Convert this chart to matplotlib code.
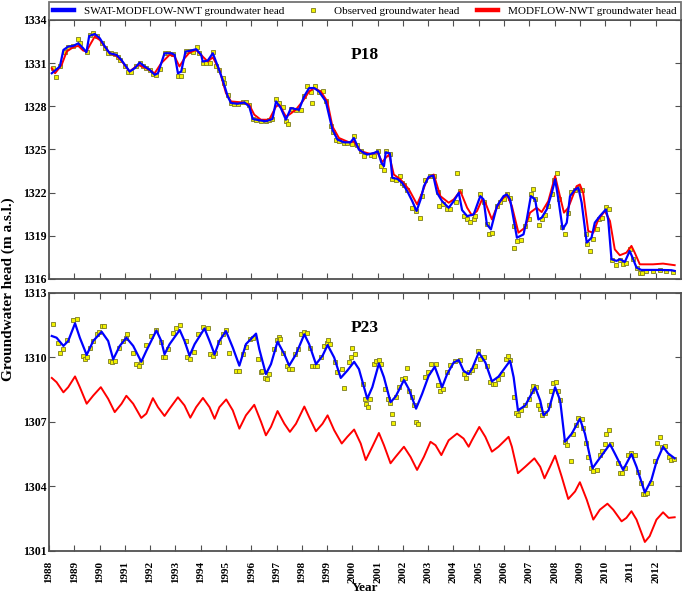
import numpy as np
import matplotlib
matplotlib.use("Agg")
import matplotlib.pyplot as plt

plt.rcParams['font.family'] = ['Liberation Serif', 'DejaVu Serif']

# (decimal year, head in m a.s.l.)
p18_swat = [
    (1988.11, 1330.30), (1988.43, 1330.77), (1988.57, 1331.92), (1988.76, 1332.15), (1988.96, 1332.20),
    (1989.16, 1332.38), (1989.35, 1332.04), (1989.48, 1331.76), (1989.59, 1332.89), (1989.81, 1333.03),
    (1990.01, 1332.73), (1990.21, 1332.15), (1990.40, 1331.69), (1990.67, 1331.58), (1990.86, 1331.23),
    (1991.19, 1330.42), (1991.39, 1330.65), (1991.59, 1331.04), (1991.78, 1330.77), (1991.98, 1330.54),
    (1992.18, 1330.19), (1992.31, 1330.30), (1992.57, 1331.69), (1992.84, 1331.69), (1992.97, 1331.58),
    (1993.10, 1330.30), (1993.23, 1330.42), (1993.40, 1331.81), (1993.56, 1331.85), (1993.82, 1331.97),
    (1994.02, 1331.58), (1994.08, 1331.11), (1994.28, 1331.18), (1994.48, 1331.69), (1994.68, 1330.77),
    (1994.87, 1329.84), (1995.07, 1328.69), (1995.20, 1328.23), (1995.46, 1328.18), (1995.73, 1328.27),
    (1995.92, 1327.99), (1996.06, 1327.12), (1996.32, 1327.03), (1996.58, 1326.96), (1996.84, 1327.12),
    (1996.98, 1328.34), (1997.17, 1327.88), (1997.37, 1327.07), (1997.57, 1327.88), (1997.89, 1327.76),
    (1998.09, 1328.69), (1998.29, 1329.27), (1998.49, 1329.27), (1998.68, 1329.03), (1998.95, 1328.34),
    (1999.21, 1326.38), (1999.41, 1325.69), (1999.67, 1325.50), (1999.93, 1325.50), (2000.06, 1325.80),
    (2000.26, 1324.99), (2000.46, 1324.76), (2000.59, 1324.65), (2000.86, 1324.76), (2001.01, 1324.88),
    (2001.15, 1324.07), (2001.25, 1323.84), (2001.32, 1324.81), (2001.49, 1324.72), (2001.58, 1323.03),
    (2001.78, 1322.96), (2001.97, 1322.68), (2002.17, 1322.11), (2002.37, 1321.41), (2002.54, 1320.72),
    (2002.70, 1321.53), (2002.83, 1322.45), (2003.02, 1323.10), (2003.20, 1323.19), (2003.35, 1321.99),
    (2003.55, 1321.41), (2003.81, 1320.95), (2004.01, 1321.41), (2004.21, 1321.99), (2004.34, 1320.79),
    (2004.54, 1320.37), (2004.80, 1320.49), (2005.06, 1321.76), (2005.19, 1321.53), (2005.32, 1319.80),
    (2005.48, 1319.45), (2005.72, 1321.07), (2005.98, 1321.76), (2006.11, 1321.88), (2006.24, 1321.53),
    (2006.38, 1320.14), (2006.51, 1318.87), (2006.77, 1319.10), (2006.90, 1320.14), (2007.06, 1321.76),
    (2007.23, 1321.53), (2007.36, 1320.14), (2007.49, 1320.26), (2007.69, 1320.84), (2007.89, 1321.99),
    (2008.02, 1322.92), (2008.15, 1321.53), (2008.32, 1319.45), (2008.48, 1319.91), (2008.61, 1321.76),
    (2008.81, 1322.22), (2008.94, 1322.34), (2009.07, 1321.30), (2009.27, 1318.53), (2009.46, 1318.87),
    (2009.59, 1319.91), (2009.79, 1320.37), (2010.03, 1320.84), (2010.12, 1320.14), (2010.25, 1317.37),
    (2010.45, 1317.26), (2010.58, 1317.37), (2010.78, 1317.19), (2010.97, 1317.95), (2011.11, 1317.37),
    (2011.24, 1316.79), (2011.43, 1316.63), (2011.76, 1316.63), (2012.16, 1316.63), (2012.62, 1316.61),
    (2012.75, 1316.56),
]

p18_modflow = [
    (1988.11, 1330.65), (1988.24, 1330.30), (1988.50, 1330.88), (1988.70, 1331.81), (1988.96, 1332.11),
    (1989.16, 1332.20), (1989.35, 1331.88), (1989.48, 1331.81), (1989.62, 1332.27), (1989.81, 1332.85),
    (1990.01, 1332.61), (1990.21, 1332.15), (1990.40, 1331.69), (1990.67, 1331.51), (1990.86, 1331.18),
    (1991.19, 1330.42), (1991.52, 1330.88), (1991.85, 1330.65), (1992.18, 1330.30), (1992.44, 1331.00),
    (1992.77, 1331.58), (1992.97, 1331.46), (1993.16, 1330.77), (1993.36, 1331.34), (1993.56, 1331.74),
    (1993.82, 1331.92), (1994.08, 1331.46), (1994.28, 1331.11), (1994.48, 1331.41), (1994.74, 1330.54),
    (1995.00, 1328.92), (1995.20, 1328.34), (1995.66, 1328.27), (1995.92, 1328.11), (1996.12, 1327.42),
    (1996.38, 1327.07), (1996.71, 1327.07), (1996.98, 1327.99), (1997.11, 1328.11), (1997.37, 1327.30),
    (1997.50, 1327.42), (1997.76, 1327.76), (1998.03, 1328.34), (1998.29, 1329.03), (1998.49, 1329.27),
    (1998.75, 1329.03), (1999.01, 1328.34), (1999.21, 1326.61), (1999.47, 1325.80), (1999.87, 1325.50),
    (2000.06, 1325.57), (2000.33, 1324.88), (2000.72, 1324.69), (2000.99, 1324.81), (2001.18, 1324.12),
    (2001.32, 1324.42), (2001.45, 1324.65), (2001.64, 1323.26), (2001.91, 1322.91), (2002.24, 1322.22),
    (2002.56, 1321.18), (2002.76, 1321.99), (2002.96, 1322.96), (2003.22, 1323.26), (2003.48, 1321.76),
    (2003.81, 1321.30), (2004.01, 1321.53), (2004.27, 1322.11), (2004.54, 1320.95), (2004.73, 1320.42),
    (2004.93, 1320.72), (2005.13, 1321.53), (2005.26, 1321.30), (2005.52, 1320.14), (2005.65, 1320.72),
    (2005.85, 1321.41), (2006.11, 1321.88), (2006.31, 1321.07), (2006.57, 1319.22), (2006.83, 1319.57),
    (2007.03, 1320.61), (2007.29, 1320.95), (2007.49, 1320.65), (2007.75, 1321.41), (2008.02, 1323.15),
    (2008.21, 1321.76), (2008.37, 1320.61), (2008.54, 1320.95), (2008.87, 1322.45), (2009.00, 1322.57),
    (2009.13, 1321.99), (2009.33, 1319.33), (2009.53, 1319.22), (2009.73, 1320.14), (2009.99, 1320.72),
    (2010.19, 1320.03), (2010.38, 1318.06), (2010.58, 1317.65), (2010.84, 1317.83), (2011.04, 1318.30),
    (2011.17, 1317.83), (2011.37, 1317.02), (2011.89, 1317.02), (2012.29, 1317.07), (2012.75, 1316.96),
]

p18_observed = [
    (1988.15, 1330.65), (1988.26, 1330.03), (1988.43, 1330.77), (1988.63, 1331.81), (1988.76, 1332.15),
    (1988.96, 1332.20), (1989.16, 1332.68), (1989.22, 1332.38), (1989.49, 1331.76), (1989.62, 1332.96),
    (1989.75, 1333.08), (1989.88, 1332.89), (1990.08, 1332.38), (1990.21, 1332.04), (1990.34, 1331.69),
    (1990.47, 1331.69), (1990.60, 1331.62), (1990.73, 1331.46), (1990.80, 1331.23), (1991.00, 1330.77),
    (1991.13, 1330.42), (1991.26, 1330.37), (1991.46, 1330.81), (1991.59, 1331.04), (1991.72, 1330.77),
    (1991.85, 1330.65), (1991.98, 1330.54), (1992.11, 1330.26), (1992.24, 1330.19), (1992.38, 1330.58),
    (1992.57, 1331.69), (1992.70, 1331.69), (1992.90, 1331.62), (1993.10, 1330.12), (1993.23, 1330.12),
    (1993.30, 1330.54), (1993.43, 1331.85), (1993.56, 1331.85), (1993.69, 1331.81), (1993.85, 1332.11),
    (1993.95, 1331.69), (1994.08, 1331.00), (1994.22, 1331.00), (1994.35, 1331.04), (1994.48, 1331.76),
    (1994.61, 1330.77), (1994.72, 1330.54), (1994.87, 1329.96), (1994.94, 1329.61), (1995.07, 1328.80),
    (1995.20, 1328.23), (1995.33, 1328.18), (1995.46, 1328.18), (1995.66, 1328.27), (1995.79, 1328.27),
    (1995.92, 1328.11), (1996.06, 1327.12), (1996.19, 1327.07), (1996.38, 1326.96), (1996.58, 1326.96),
    (1996.71, 1327.07), (1996.84, 1327.12), (1996.98, 1328.53), (1997.11, 1328.23), (1997.24, 1327.95),
    (1997.37, 1326.96), (1997.44, 1326.79), (1997.57, 1327.81), (1997.76, 1327.72), (1997.96, 1327.76),
    (1998.09, 1328.73), (1998.22, 1329.38), (1998.36, 1329.03), (1998.39, 1328.23), (1998.53, 1329.38),
    (1998.68, 1329.03), (1998.85, 1329.08), (1998.95, 1328.34), (1999.14, 1326.66), (1999.24, 1326.19),
    (1999.37, 1325.69), (1999.47, 1325.57), (1999.67, 1325.45), (1999.80, 1325.45), (1999.97, 1325.41),
    (2000.06, 1325.96), (2000.19, 1325.34), (2000.33, 1324.88), (2000.46, 1324.58), (2000.72, 1324.65),
    (2000.86, 1324.53), (2001.01, 1324.88), (2001.15, 1323.84), (2001.25, 1323.61), (2001.33, 1324.88),
    (2001.49, 1324.72), (2001.58, 1322.96), (2001.71, 1322.91), (2001.88, 1323.15), (2001.97, 1322.68),
    (2002.04, 1322.50), (2002.17, 1322.22), (2002.37, 1320.95), (2002.50, 1320.72), (2002.67, 1320.26),
    (2002.76, 1321.76), (2002.89, 1322.87), (2003.09, 1323.15), (2003.22, 1323.19), (2003.38, 1322.04),
    (2003.42, 1321.07), (2003.59, 1321.18), (2003.75, 1320.88), (2003.88, 1320.88), (2004.08, 1321.34),
    (2004.14, 1323.38), (2004.25, 1322.11), (2004.40, 1320.37), (2004.54, 1320.14), (2004.67, 1319.96),
    (2004.80, 1320.14), (2004.86, 1320.37), (2005.06, 1321.88), (2005.19, 1321.34), (2005.32, 1319.80),
    (2005.39, 1319.10), (2005.52, 1319.22), (2005.72, 1321.07), (2005.85, 1321.34), (2005.98, 1321.53),
    (2006.11, 1321.88), (2006.22, 1321.64), (2006.38, 1319.68), (2006.40, 1318.18), (2006.51, 1318.64),
    (2006.68, 1318.71), (2006.83, 1319.68), (2006.97, 1320.14), (2007.06, 1321.88), (2007.16, 1322.27),
    (2007.23, 1321.53), (2007.40, 1319.73), (2007.49, 1320.14), (2007.62, 1320.42), (2007.75, 1321.07),
    (2007.89, 1321.88), (2007.98, 1322.91), (2008.08, 1323.38), (2008.19, 1321.53), (2008.28, 1319.64),
    (2008.41, 1319.10), (2008.54, 1320.61), (2008.63, 1322.04), (2008.81, 1322.22), (2008.94, 1322.34),
    (2009.07, 1322.18), (2009.24, 1319.10), (2009.29, 1318.41), (2009.40, 1317.95), (2009.50, 1318.80),
    (2009.66, 1319.45), (2009.77, 1320.14), (2009.86, 1320.26), (2010.05, 1321.02), (2010.16, 1320.88),
    (2010.29, 1317.33), (2010.41, 1316.96), (2010.58, 1317.33), (2010.71, 1317.07), (2010.84, 1317.14),
    (2011.00, 1318.11), (2011.11, 1317.37), (2011.24, 1316.79), (2011.37, 1316.45), (2011.47, 1316.40),
    (2011.63, 1316.56), (2011.89, 1316.56), (2012.16, 1316.63), (2012.42, 1316.56), (2012.68, 1316.51),
]

p23_swat = [
    (1988.11, 1311.00), (1988.30, 1310.92), (1988.57, 1310.54), (1988.76, 1310.77), (1989.03, 1311.59),
    (1989.22, 1310.92), (1989.49, 1310.12), (1989.75, 1310.77), (1990.08, 1311.20), (1990.34, 1310.77),
    (1990.54, 1309.92), (1990.80, 1310.54), (1991.06, 1310.92), (1991.33, 1310.54), (1991.65, 1309.80),
    (1991.85, 1310.31), (1992.25, 1311.26), (1992.44, 1310.77), (1992.57, 1310.15), (1992.77, 1310.62),
    (1993.17, 1311.28), (1993.36, 1310.77), (1993.56, 1310.08), (1993.76, 1310.62), (1994.15, 1311.35),
    (1994.35, 1310.77), (1994.55, 1310.15), (1994.74, 1310.77), (1995.00, 1311.23), (1995.27, 1310.46),
    (1995.53, 1309.62), (1995.79, 1310.62), (1996.19, 1311.11), (1996.32, 1310.38), (1996.58, 1309.23),
    (1996.78, 1309.69), (1997.04, 1310.74), (1997.31, 1310.15), (1997.50, 1309.62), (1997.77, 1310.15),
    (1998.10, 1311.08), (1998.29, 1310.62), (1998.56, 1309.69), (1998.82, 1310.08), (1999.02, 1310.58),
    (1999.28, 1310.00), (1999.54, 1309.05), (1999.80, 1309.39), (2000.07, 1309.80), (2000.26, 1309.46),
    (2000.59, 1308.08), (2000.79, 1308.62), (2001.05, 1309.72), (2001.25, 1309.08), (2001.51, 1307.92),
    (2001.71, 1308.18), (2002.04, 1308.95), (2002.23, 1308.54), (2002.52, 1307.62), (2002.76, 1308.31),
    (2003.02, 1309.15), (2003.26, 1309.57), (2003.39, 1309.15), (2003.55, 1308.62), (2003.75, 1309.23),
    (2004.01, 1309.77), (2004.21, 1309.88), (2004.40, 1309.38), (2004.60, 1309.23), (2004.73, 1309.46),
    (2005.00, 1310.23), (2005.26, 1309.77), (2005.52, 1308.89), (2005.78, 1309.11), (2006.24, 1309.85),
    (2006.38, 1309.08), (2006.55, 1307.54), (2006.84, 1307.77), (2007.23, 1308.62), (2007.43, 1308.00),
    (2007.56, 1307.31), (2007.76, 1307.54), (2008.02, 1308.62), (2008.22, 1308.00), (2008.41, 1306.08),
    (2008.68, 1306.46), (2009.00, 1307.15), (2009.20, 1306.46), (2009.50, 1304.85), (2009.73, 1305.23),
    (2010.19, 1305.97), (2010.38, 1305.54), (2010.71, 1304.77), (2011.04, 1305.51), (2011.24, 1304.92),
    (2011.57, 1303.72), (2011.83, 1304.31), (2012.03, 1305.15), (2012.29, 1305.85), (2012.49, 1305.54),
    (2012.75, 1305.31),
]

p23_modflow = [
    (1988.11, 1309.05), (1988.30, 1308.85), (1988.57, 1308.38), (1988.76, 1308.62), (1989.03, 1309.12),
    (1989.22, 1308.62), (1989.49, 1307.85), (1989.75, 1308.23), (1990.05, 1308.62), (1990.34, 1308.08),
    (1990.60, 1307.46), (1990.87, 1307.85), (1991.06, 1308.22), (1991.33, 1307.85), (1991.65, 1307.19),
    (1991.85, 1307.39), (1992.11, 1308.11), (1992.31, 1307.69), (1992.57, 1307.28), (1992.77, 1307.62),
    (1993.10, 1308.15), (1993.36, 1307.77), (1993.59, 1307.20), (1993.82, 1307.69), (1994.09, 1308.12),
    (1994.35, 1307.69), (1994.55, 1307.15), (1994.74, 1307.69), (1995.01, 1308.05), (1995.27, 1307.54),
    (1995.53, 1306.69), (1995.79, 1307.31), (1996.12, 1307.80), (1996.39, 1307.00), (1996.58, 1306.38),
    (1996.78, 1306.77), (1997.04, 1307.51), (1997.31, 1306.92), (1997.53, 1306.54), (1997.77, 1306.92),
    (1998.10, 1307.72), (1998.29, 1307.23), (1998.56, 1306.57), (1998.82, 1306.92), (1999.02, 1307.31),
    (1999.28, 1306.62), (1999.58, 1306.00), (1999.80, 1306.31), (2000.07, 1306.65), (2000.33, 1306.00),
    (2000.53, 1305.23), (2000.79, 1305.85), (2001.05, 1306.49), (2001.25, 1305.92), (2001.51, 1305.08),
    (2001.71, 1305.38), (2002.04, 1305.85), (2002.30, 1305.38), (2002.56, 1304.77), (2002.83, 1305.38),
    (2003.09, 1306.08), (2003.29, 1305.92), (2003.52, 1305.46), (2003.81, 1306.15), (2004.14, 1306.46),
    (2004.40, 1306.23), (2004.60, 1305.85), (2004.73, 1306.15), (2005.02, 1306.77), (2005.26, 1306.31),
    (2005.52, 1305.62), (2005.78, 1305.85), (2006.18, 1306.31), (2006.31, 1305.85), (2006.55, 1304.62),
    (2006.84, 1304.92), (2007.20, 1305.31), (2007.43, 1304.92), (2007.60, 1304.38), (2007.82, 1304.92),
    (2008.02, 1305.43), (2008.28, 1304.46), (2008.54, 1303.42), (2008.81, 1303.77), (2009.00, 1304.20),
    (2009.27, 1303.39), (2009.53, 1302.46), (2009.79, 1302.92), (2010.09, 1303.20), (2010.32, 1302.92),
    (2010.65, 1302.38), (2010.84, 1302.54), (2011.04, 1302.85), (2011.24, 1302.46), (2011.57, 1301.42),
    (2011.76, 1301.69), (2012.03, 1302.46), (2012.29, 1302.80), (2012.51, 1302.54), (2012.75, 1302.57),
]

p23_observed = [
    (1988.17, 1311.54), (1988.37, 1310.69), (1988.43, 1310.23), (1988.57, 1310.38), (1988.70, 1310.80),
    (1988.93, 1311.74), (1989.09, 1311.80), (1989.35, 1310.08), (1989.42, 1309.92), (1989.49, 1310.03),
    (1989.62, 1310.46), (1989.75, 1310.77), (1989.88, 1311.08), (1989.99, 1311.20), (1990.08, 1311.46),
    (1990.17, 1311.46), (1990.41, 1309.85), (1990.50, 1309.80), (1990.60, 1309.85), (1990.77, 1310.43),
    (1990.91, 1310.77), (1991.04, 1310.92), (1991.09, 1311.11), (1991.33, 1310.19), (1991.43, 1309.72),
    (1991.56, 1309.62), (1991.62, 1309.77), (1991.83, 1310.57), (1992.05, 1311.00), (1992.25, 1311.28),
    (1992.44, 1310.74), (1992.51, 1310.00), (1992.57, 1310.00), (1992.71, 1310.38), (1992.90, 1311.15),
    (1993.03, 1311.35), (1993.17, 1311.49), (1993.40, 1310.77), (1993.47, 1310.00), (1993.56, 1309.92),
    (1993.72, 1310.26), (1993.89, 1311.08), (1994.09, 1311.42), (1994.28, 1311.36), (1994.37, 1310.15),
    (1994.48, 1310.08), (1994.55, 1310.23), (1994.74, 1310.74), (1994.87, 1311.08), (1995.01, 1311.26),
    (1995.11, 1310.23), (1995.40, 1309.38), (1995.50, 1309.38), (1995.66, 1310.15), (1995.79, 1310.49),
    (1995.95, 1310.85), (1996.06, 1310.92), (1996.25, 1309.92), (1996.38, 1309.31), (1996.43, 1309.35),
    (1996.56, 1309.05), (1996.61, 1309.00), (1996.72, 1309.23), (1996.91, 1310.38), (1997.00, 1310.80),
    (1997.08, 1310.97), (1997.14, 1310.85), (1997.24, 1310.23), (1997.40, 1309.62), (1997.50, 1309.46),
    (1997.60, 1309.46), (1997.74, 1310.15), (1997.83, 1310.38), (1997.96, 1311.08), (1998.10, 1311.18),
    (1998.19, 1311.15), (1998.32, 1310.46), (1998.40, 1309.62), (1998.53, 1309.60), (1998.62, 1309.60),
    (1998.75, 1310.00), (1998.88, 1310.54), (1998.98, 1310.69), (1999.05, 1310.80), (1999.11, 1310.62),
    (1999.32, 1309.77), (1999.41, 1309.31), (1999.58, 1309.46), (1999.67, 1308.58), (1999.87, 1309.77),
    (1999.94, 1310.00), (2000.00, 1310.43), (2000.11, 1310.15), (2000.42, 1308.77), (2000.50, 1308.08),
    (2000.55, 1307.85), (2000.61, 1307.69), (2000.68, 1308.08), (2000.85, 1309.72), (2000.95, 1309.85),
    (2001.05, 1309.89), (2001.12, 1309.72), (2001.31, 1308.54), (2001.42, 1308.08), (2001.49, 1307.88),
    (2001.58, 1307.39), (2001.60, 1306.96), (2001.71, 1308.18), (2001.84, 1308.62), (2001.97, 1309.00),
    (2002.08, 1309.05), (2002.17, 1309.51), (2002.26, 1308.46), (2002.34, 1308.15), (2002.43, 1307.77),
    (2002.50, 1307.00), (2002.60, 1306.92), (2002.89, 1309.08), (2003.00, 1309.31), (2003.13, 1309.69),
    (2003.29, 1309.72), (2003.39, 1308.74), (2003.48, 1308.46), (2003.57, 1308.54), (2003.75, 1309.31),
    (2003.88, 1309.66), (2004.07, 1309.85), (2004.27, 1309.88), (2004.40, 1309.23), (2004.49, 1309.05),
    (2004.60, 1309.31), (2004.73, 1309.42), (2004.84, 1309.62), (2004.97, 1310.31), (2005.06, 1309.92),
    (2005.19, 1310.00), (2005.32, 1309.62), (2005.46, 1308.85), (2005.55, 1308.77), (2005.65, 1308.77),
    (2005.78, 1309.00), (2005.92, 1309.23), (2006.07, 1309.92), (2006.15, 1310.08), (2006.24, 1309.88),
    (2006.38, 1308.15), (2006.47, 1307.42), (2006.55, 1307.31), (2006.68, 1307.54), (2006.84, 1307.77),
    (2006.97, 1308.08), (2007.10, 1308.46), (2007.16, 1308.69), (2007.26, 1308.65), (2007.33, 1307.77),
    (2007.43, 1307.61), (2007.52, 1307.31), (2007.62, 1307.42), (2007.76, 1307.77), (2007.86, 1308.43),
    (2007.95, 1308.80), (2008.04, 1308.85), (2008.12, 1308.46), (2008.22, 1308.00), (2008.41, 1306.08),
    (2008.48, 1305.92), (2008.65, 1305.20), (2008.74, 1306.46), (2008.83, 1306.85), (2008.94, 1307.18),
    (2009.07, 1307.15), (2009.14, 1306.74), (2009.23, 1306.00), (2009.33, 1305.38), (2009.44, 1304.85),
    (2009.53, 1304.74), (2009.66, 1304.77), (2009.79, 1305.46), (2009.86, 1305.66), (2009.99, 1305.97),
    (2010.05, 1306.46), (2010.15, 1306.62), (2010.25, 1305.97), (2010.49, 1305.08), (2010.58, 1304.65),
    (2010.65, 1304.62), (2010.78, 1304.85), (2010.91, 1305.46), (2011.04, 1305.54), (2011.17, 1305.46),
    (2011.30, 1304.69), (2011.41, 1304.16), (2011.50, 1303.66), (2011.59, 1303.66), (2011.67, 1303.72),
    (2011.83, 1304.16), (2011.96, 1305.20), (2012.07, 1306.03), (2012.16, 1306.31), (2012.25, 1305.85),
    (2012.35, 1305.88), (2012.51, 1305.38), (2012.62, 1305.23), (2012.72, 1305.26),
]

years = list(range(1988, 2013))
p18_yticks = [1316, 1319, 1322, 1325, 1328, 1331, 1334]
p23_yticks = [1301, 1304, 1307, 1310, 1313]
SPINE = '#505050'


def style_axes(ax, yticks, show_xlabels):
    ax.set_xlim(1988, 2013)
    ax.set_ylim(yticks[0], yticks[-1])
    ax.set_yticks(yticks)
    ax.set_xticks(years)
    ax.tick_params(direction='in', top=True, right=True, length=4, width=0.8,
                   color=SPINE, labelsize=8.5, pad=2)
    ax.tick_params(axis='x', pad=7, labelsize=8)
    if show_xlabels:
        ax.set_xticklabels([str(y) for y in years], rotation=90, fontweight='bold')
    else:
        ax.set_xticklabels([])
    ax.set_yticklabels([str(v) for v in yticks], fontweight='bold')
    for sp in ax.spines.values():
        sp.set_color(SPINE)
        sp.set_linewidth(1.3)


def draw_panel(ax, swat, modflow, observed, name):
    s = np.array(swat).T
    m = np.array(modflow).T
    o = np.array(observed).T
    ax.plot(o[0], o[1], 's', ms=3.4, mfc='#f2f200', mec='#7a7a20', mew=0.6, zorder=1,
            label='Observed groundwater head')
    ax.plot(m[0], m[1], '-', color='#ff0000', lw=1.4, zorder=2,
            label='MODFLOW-NWT groundwater head')
    ax.plot(s[0], s[1], '-', color='#0000ff', lw=1.6, zorder=3,
            label='SWAT-MODFLOW-NWT groundwater head')
    ax.text(0.5, 0.865, name, transform=ax.transAxes, ha='center', va='center',
            fontsize=12.5, fontweight='bold')


fig = plt.figure(figsize=(6.85, 5.95), dpi=100)
ax1 = fig.add_axes([49 / 685, 1 - 279 / 595, 632 / 685, 259 / 595])
ax2 = fig.add_axes([49 / 685, 1 - 551 / 595, 632 / 685, 258 / 595])

draw_panel(ax1, p18_swat, p18_modflow, p18_observed, 'P18')
draw_panel(ax2, p23_swat, p23_modflow, p23_observed, 'P23')
style_axes(ax1, p18_yticks, False)
style_axes(ax2, p23_yticks, True)

handles, labels = ax1.get_legend_handles_labels()
order = [2, 0, 1]
leg = ax1.legend([handles[i] for i in order], [labels[i] for i in order],
                 loc='lower left', bbox_to_anchor=(0, 1, 1, 0.075), mode='expand',
                 ncol=3, borderaxespad=0, frameon=True, fancybox=False,
                 fontsize=8, handlelength=1.9, handletextpad=0.9, columnspacing=1.0,
                 borderpad=0.35)
leg.get_frame().set_edgecolor(SPINE)
leg.get_frame().set_linewidth(1.3)
for line in leg.get_lines():
    if line.get_linestyle() == '-':
        line.set_linewidth(3.2)

fig.text(0.012, 1 - 289 / 595, 'Groundwater head (m a.s.l.)', rotation=90,
         ha='center', va='center', fontsize=11, fontweight='bold')
fig.text(365 / 685, 1 - 588 / 595, 'Year', ha='center', va='center',
         fontsize=9.5, fontweight='bold')

fig.savefig('out.png', dpi=100)
